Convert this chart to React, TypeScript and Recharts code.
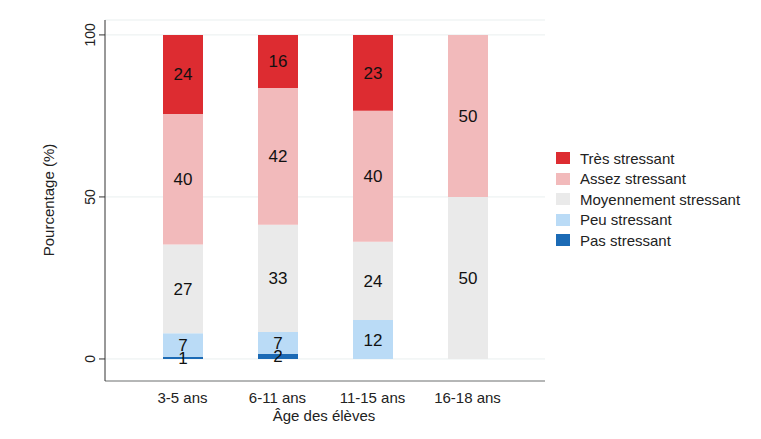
import { BarChart, Bar, XAxis, YAxis, CartesianGrid, Legend, LabelList, Label } from 'recharts';

const categories = ['3-5 ans', '6-11 ans', '11-15 ans', '16-18 ans'];
const pasStressant = [0.7, 1.6, 0, 0];
const peuStressant = [7.2, 6.7, 12.0, 0];
const moyennementStressant = [27.4, 33.1, 24.2, 50];
const assezStressant = [40.3, 42.2, 40.4, 50];
const tresStressant = [24.4, 16.4, 23.4, 0];
const yTicks = [0, 50, 100];

const FONT = '"Liberation Sans", Arial, sans-serif';

// stacked bottom to top
const series = [
  { key: 'pas', name: 'Pas stressant', color: '#1b6ab5', values: pasStressant },
  { key: 'peu', name: 'Peu stressant', color: '#badbf6', values: peuStressant },
  { key: 'moyen', name: 'Moyennement stressant', color: '#eaeaea', values: moyennementStressant },
  { key: 'assez', name: 'Assez stressant', color: '#f2babb', values: assezStressant },
  { key: 'tres', name: 'Très stressant', color: '#dd2c31', values: tresStressant },
];

const data = categories.map((age, i) => {
  const row: Record<string, string | number> = { age };
  series.forEach((s) => { row[s.key] = s.values[i]; });
  return row;
});

const YTick = ({ y, payload }: { y?: number; payload?: { value: number } }) => (
  <text
    transform={`translate(95,${y}) rotate(-90)`}
    textAnchor="middle"
    fontSize={14}
    fontFamily={FONT}
    fill="#222"
  >
    {payload?.value}
  </text>
);

const XTick = ({ x, payload }: { x?: number; payload?: { value: string } }) => (
  <text x={x} y={403} textAnchor="middle" fontSize={15} fontFamily={FONT} fill="#222">
    {payload?.value}
  </text>
);

const BarValue = (props: { x?: number; y?: number; width?: number; height?: number; value?: number }) => {
  const { x = 0, y = 0, width = 0, height = 0, value = 0 } = props;
  if (!value) return null;
  return (
    <text
      x={x + width / 2}
      y={y + height / 2}
      dy={6}
      textAnchor="middle"
      fontSize={17}
      fontFamily={FONT}
      fill="#111"
    >
      {Math.round(value)}
    </text>
  );
};

const LegendBox = () => (
  <div style={{ fontFamily: FONT, fontSize: 15, color: '#222' }}>
    {[...series].reverse().map((s) => (
      <div key={s.key} style={{ display: 'flex', alignItems: 'center', height: 20.5 }}>
        <span style={{ width: 14, height: 12, background: s.color, marginRight: 10, display: 'inline-block' }} />
        <span>{s.name}</span>
      </div>
    ))}
  </div>
);

export default function App() {
  return (
    <div style={{ position: 'absolute', left: 0, top: 0, width: 761, height: 439, background: '#fff' }}>
      <BarChart
        width={761}
        height={439}
        data={data}
        margin={{ top: 20, right: 216, bottom: 0, left: 45 }}
        barSize={40}
      >
        <CartesianGrid vertical={false} stroke="#e9efef" />
        <XAxis
          dataKey="age"
          padding={{ left: 30, right: 30 }}
          tickLine={false}
          axisLine={{ stroke: '#777' }}
          tick={<XTick />}
          height={58}
          interval={0}
        >
          <Label
            content={() => (
              <text x={324} y={421} textAnchor="middle" fontSize={15} fontFamily={FONT} fill="#222">
                Âge des élèves
              </text>
            )}
          />
        </XAxis>
        <YAxis
          type="number"
          domain={[-6.8, 104.6]}
          ticks={yTicks}
          allowDataOverflow
          width={60}
          tickSize={6}
          tickLine={{ stroke: '#333' }}
          axisLine={{ stroke: '#333' }}
          tick={<YTick />}
        >
          <Label
            content={() => (
              <text
                transform="translate(54,200) rotate(-90)"
                textAnchor="middle"
                fontSize={15}
                fontFamily={FONT}
                fill="#222"
              >
                Pourcentage (%)
              </text>
            )}
          />
        </YAxis>
        <Legend
          layout="vertical"
          align="center"
          verticalAlign="middle"
          wrapperStyle={{ position: 'absolute', left: 556, top: 148, width: 200 }}
          content={<LegendBox />}
        />
        {series.map((s) => (
          <Bar key={s.key} dataKey={s.key} name={s.name} stackId="a" fill={s.color} isAnimationActive={false}>
            <LabelList dataKey={s.key} content={<BarValue />} />
          </Bar>
        ))}
      </BarChart>
    </div>
  );
}
